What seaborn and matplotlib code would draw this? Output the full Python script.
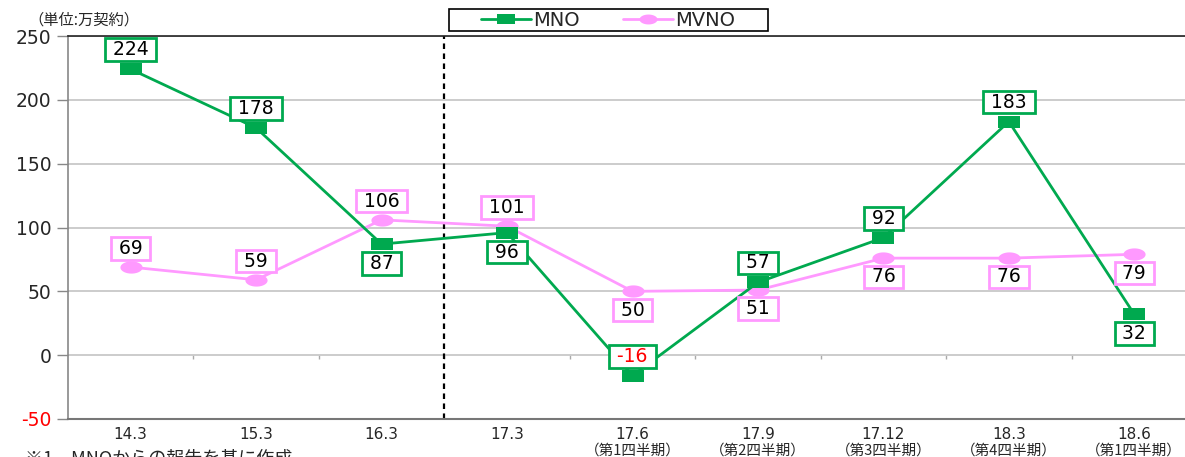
import numpy as np
import pandas as pd
import matplotlib
matplotlib.use("Agg")
import matplotlib.pyplot as plt
from matplotlib.patches import Rectangle
import seaborn as sns

# ---- data ----
periods = ["14.3", "15.3", "16.3", "17.3", "17.6", "17.9", "17.12", "18.3", "18.6"]
subtitles = ["", "", "", "", "（第1四半期）", "（第2四半期）", "（第3四半期）", "（第4四半期）", "（第1四半期）"]
mno = [224, 178, 87, 96, -16, 57, 92, 183, 32]
mvno = [69, 59, 106, 101, 50, 51, 76, 76, 79]
mno_label_side = [1, 1, -1, -1, 1, 1, 1, 1, -1]
mvno_label_side = [1, 1, 1, 1, -1, -1, -1, -1, -1]
yticks = [-50, 0, 50, 100, 150, 200, 250]
unit_text = "（単位:万契約）"
footnote = "※1　MNOからの報告を基に作成"

GREEN = "#00A94F"
PINK = "#FF99FF"
RED = "#FF0000"
CJK = ["Noto Sans CJK JP", "DejaVu Sans"]

sns.set_theme(style="white")
plt.rcParams["font.family"] = ["DejaVu Sans", "Noto Sans CJK JP"]

fig = plt.figure(figsize=(11.85, 4.57), dpi=100)
ax = fig.add_axes([68 / 1185, 1 - 419 / 457, (1197 - 68) / 1185, (419 - 36) / 457])

xs = np.arange(len(periods))
df = pd.DataFrame({"x": np.concatenate([xs, xs]),
                   "value": mno + mvno,
                   "series": ["MNO"] * len(xs) + ["MVNO"] * len(xs)})

rect_marker = [(-1, -0.55), (1, -0.55), (1, 0.55), (-1, 0.55), (-1, -0.55)]
t = np.linspace(0, 2 * np.pi, 40)
ell_marker = list(zip(np.cos(t), 0.55 * np.sin(t)))

sns.lineplot(data=df[df.series == "MNO"], x="x", y="value", ax=ax, color=GREEN,
             linewidth=2, marker=rect_marker, markersize=16, markeredgewidth=0,
             label="MNO", zorder=4)
sns.lineplot(data=df[df.series == "MVNO"], x="x", y="value", ax=ax, color=PINK,
             linewidth=2, marker=ell_marker, markersize=16, markeredgewidth=0,
             label="MVNO", zorder=3)

# labels
for xi, v, s in zip(xs, mno, mno_label_side):
    ax.annotate(f" {v} ", (xi, v), xytext=(0, 14 * s), textcoords="offset points",
                ha="center", va="center", fontsize=13.5,
                color=RED if v < 0 else "black", zorder=6,
                bbox=dict(boxstyle="square,pad=0.1", fc="white", ec=GREEN, lw=2))
for xi, v, s in zip(xs, mvno, mvno_label_side):
    ax.annotate(f" {v} ", (xi, v), xytext=(0, 13.5 * s), textcoords="offset points",
                ha="center", va="center", fontsize=13.5, color="black", zorder=5,
                bbox=dict(boxstyle="square,pad=0.1", fc="white", ec=PINK, lw=2))

ax.set_xlim(-0.5, len(periods) - 0.5)
ax.set_ylim(-50, 250)
ax.set_yticks(yticks)
ax.set_yticklabels([str(v) for v in yticks], fontsize=13.5)
for lbl, v in zip(ax.get_yticklabels(), yticks):
    if v < 0:
        lbl.set_color(RED)
ax.set_xticks(xs)
ax.set_xticklabels(periods, fontsize=11)
ax.set_xlabel("")
ax.set_ylabel("")
ax.tick_params(axis="x", length=0, pad=6)
ax.tick_params(axis="y", length=8, width=1, color="#888888", pad=4, left=True)

ax.grid(axis="y", color="#C8C8C8", lw=1.3)
ax.grid(axis="x", visible=False)
ax.spines["top"].set_color("#222222")
ax.spines["top"].set_linewidth(1.2)
ax.spines["right"].set_visible(False)
ax.spines["left"].set_color("#888888")
ax.spines["left"].set_linewidth(1.2)
ax.spines["bottom"].set_color("#777777")
ax.spines["bottom"].set_linewidth(1.5)

# ticks on zero line between categories
sec = ax.secondary_xaxis(1 / 6)
sec.set_xticks(np.arange(0.5, len(periods) - 0.5, 1))
sec.set_xticklabels([])
sec.tick_params(length=3, width=1, color="#AAAAAA", direction="out")
sec.spines["bottom"].set_visible(False)
sec.spines["top"].set_visible(False)

# dotted divider
ax.axvline(2.5, color="black", lw=1.6, ls=(0, (2.5, 2)), zorder=2)

# subtitles
for xi, s in zip(xs, subtitles):
    if s:
        ax.text(xi, (419 - 451) / 383, s, transform=ax.get_xaxis_transform(),
                ha="center", va="center", fontsize=10.5, family=CJK)

fig.text(28 / 1185, 1 - 20 / 457, unit_text, ha="left", va="center", fontsize=11,
         family=CJK)
fig.text(25 / 1185, 1 - 450 / 457, footnote, ha="left", va="top", fontsize=13,
         family=CJK)

# legend
leg = ax.legend(loc="center", bbox_to_anchor=(608 / 1185, 1 - 20 / 457),
                bbox_transform=fig.transFigure, ncol=2, frameon=False,
                fontsize=14, handlelength=2.6, columnspacing=2.2,
                borderpad=0.1, handletextpad=0.1, borderaxespad=0)
for h in leg.legend_handles:
    h.set_markersize(13)
fig.patches.append(Rectangle((449 / 1185, 1 - 31 / 457), (768 - 449) / 1185, 22 / 457,
                             transform=fig.transFigure, fill=False, ec="black", lw=1.2))

fig.savefig("out.png", dpi=100)
